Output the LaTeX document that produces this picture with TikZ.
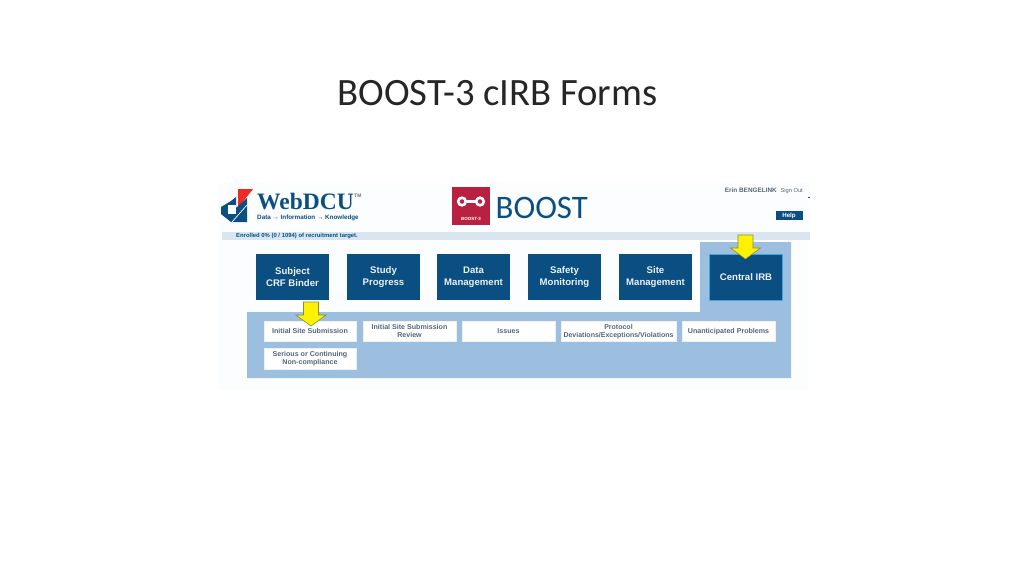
\documentclass[tikz,border=0pt]{standalone}
\usepackage{fontspec}
\setmainfont{Liberation Sans}
\newfontfamily\titlefont{Carlito}
\newfontfamily\logofont{Liberation Serif}
\usepackage{tikz}
\usetikzlibrary{calc}
\definecolor{navy}{HTML}{0B4F82}
\definecolor{panelblue}{HTML}{9DBFDF}
\definecolor{barblue}{HTML}{D9E6F0}
\definecolor{shotbg}{HTML}{FBFDFE}
\definecolor{subtext}{HTML}{55677A}
\definecolor{boostred}{HTML}{B8213F}
\definecolor{logored}{HTML}{EE2A24}
\definecolor{arrowedge}{HTML}{8A8F30}
\definecolor{glowblue}{HTML}{3FA4E0}
\tikzset{
  menubox/.style={fill=navy,text=white!92!navy,minimum width=73pt,minimum height=46pt,inner sep=0pt,align=center,font=\fontsize{9.6}{12}\selectfont\bfseries},
  subbox/.style={fill=white,draw=black!6,line width=0.4pt,minimum height=20.5pt,inner sep=0pt,align=center,text=subtext,font=\fontsize{7.1}{8}\selectfont\bfseries},
  pointer/.style={fill=yellow,draw=arrowedge,line width=0.6pt,line join=miter}
}
\newcommand{\pointer}[1]{
  \draw[pointer] ($#1+(-7.5,-24)$) -- ($#1+(7.5,-24)$) -- ($#1+(7.5,-11)$) -- ($#1+(15,-11)$) -- #1 -- ($#1+(-15,-11)$) -- ($#1+(-7.5,-11)$) -- cycle;
}
\begin{document}
\begin{tikzpicture}[x=1pt,y=-1pt]
  \useasboundingbox (0,0) rectangle (1024,576);
  \node[font=\titlefont\fontsize{38.7}{42}\selectfont,text=black!85,anchor=base] (title) at (497.5,105) {BOOST-3 cIRB Forms};

  % screenshot background
  \fill[shotbg] (217,183) rectangle (810,390);
  \fill[barblue] (222,232) rectangle (810,240);
  \node[font=\fontsize{5.9}{6}\selectfont\bfseries,text=navy,anchor=west,inner sep=0pt] (enrolled) at (236,236) {Enrolled 0\% (0 / 1094) of recruitment target.};

  % WebDCU logo
  \fill[logored] (238,189) -- (253,189) -- (238,208) -- cycle;
  \fill[navy] (221,207) -- (231,201) -- (236,197) -- (236,208) -- (247,198) -- (247,222) -- (231,222) -- (221,214) -- cycle;
  \fill[white] (228,205) -- (236,205) -- (236,214) -- (228,214) -- cycle;
  \draw[white,line width=0.7pt] (232,222) -- (247,205);
  \node[font=\logofont\fontsize{23.5}{26}\selectfont\bfseries,text=navy,anchor=base west,inner sep=0pt] (webdcu) at (257,209) {WebDCU};
  \node[font=\fontsize{5}{6}\selectfont\bfseries,text=black!55,anchor=base west,inner sep=0pt] (tm) at (354,197) {TM};
  \node[font=\fontsize{6.3}{7}\selectfont\bfseries,text=navy,anchor=base west,inner sep=0pt] (tagline) at (257,219.5) {Data → Information → Knowledge};

  % BOOST logo
  \fill[boostred] (452,187) rectangle (490,225);
  \draw[white,line width=2.6pt] (462,201.5) circle (3.8);
  \draw[white,line width=2.6pt] (480,201.5) circle (3.8);
  \draw[white,line width=2.4pt] (465,201.5) -- (477,201.5);
  \node[font=\fontsize{4.5}{5}\selectfont\bfseries,text=white,inner sep=0pt] (boostsmall) at (471,218.5) {BOOST-3};
  \node[font=\titlefont\fontsize{32.8}{34}\selectfont,text=navy,anchor=base west,inner sep=0pt] (boost) at (495.5,218) {BOOST};

  % top right
  \node[font=\fontsize{6.4}{7}\selectfont\bfseries,text=subtext,anchor=base east,inner sep=0pt] (user) at (777,192.5) {Erin BENGELINK};
  \node[font=\fontsize{5.7}{6}\selectfont,text=subtext,anchor=base east,inner sep=0pt] (signout) at (803,192.5) {Sign Out};
  \node[fill=navy,text=white,font=\fontsize{6.2}{7}\selectfont\bfseries,minimum width=27pt,minimum height=9.4pt,inner sep=0pt,text height=4.6pt,text depth=0pt] (help) at (789,215.3) {Help};
  \fill[navy] (808,196.5) rectangle (809.5,198);

  % panel
  \fill[panelblue] (247,312) -- (700,312) -- (700,242) -- (791,242) -- (791,378) -- (247,378) -- cycle;

  % menu
  \node[menubox] (subject) at (292.5,277) {Subject\\CRF Binder};
  \node[menubox] (study) at (383.5,277) {Study\\Progress};
  \node[menubox] (data) at (473.5,277) {Data\\Management};
  \node[menubox] (safety) at (564.5,277) {Safety\\Monitoring};
  \node[menubox] (site) at (655.5,277) {Site\\Management};
  \node[menubox,draw=glowblue,line width=1.2pt,minimum width=73pt] (central) at (746,277.5) {Central IRB};

  % submenu
  \node[subbox,minimum width=92pt] (initial) at (310,331.3) {Initial Site Submission};
  \node[subbox,minimum width=93pt] (review) at (409.5,331.3) {Initial Site Submission\\Review};
  \node[subbox,minimum width=93pt] (issues) at (508.5,331.3) {Issues};
  \node[subbox,minimum width=115pt,font=\fontsize{7}{8}\selectfont\bfseries] (protocol) at (618.5,331.3) {Protocol\\Deviations/Exceptions/Violations};
  \node[subbox,minimum width=93pt] (unanticipated) at (728.5,331.3) {Unanticipated Problems};
  \node[subbox,minimum width=92pt] (serious) at (310,358.8) {Serious or Continuing\\Non-compliance};

  % arrows
  \pointer{(745.5,259)}
  \pointer{(311,326)}
\end{tikzpicture}
\end{document}
